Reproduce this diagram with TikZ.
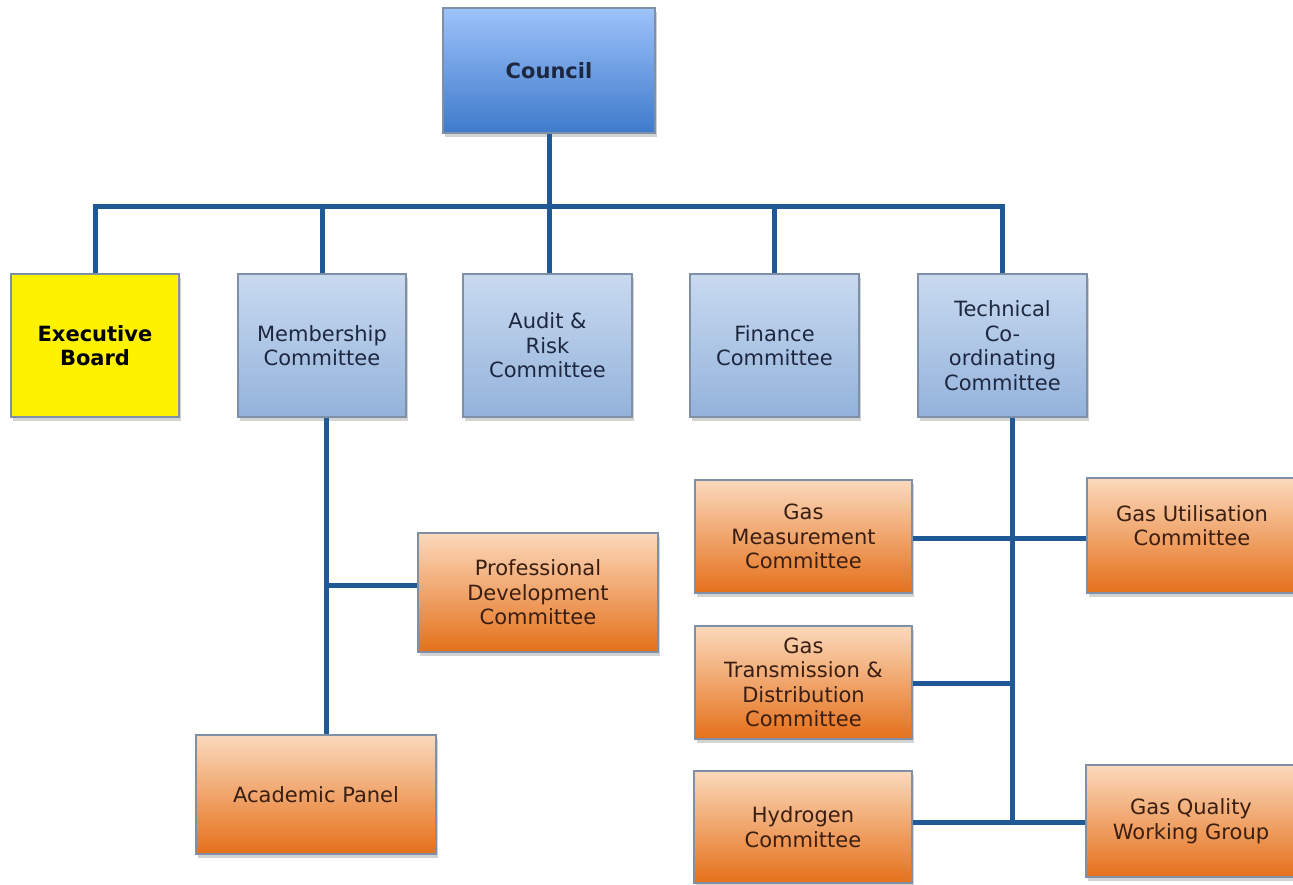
\documentclass[tikz,border=0pt]{standalone}
\usepackage{fontspec}
\setmainfont{DejaVu Sans}
\usetikzlibrary{shadows}
\definecolor{linec}{HTML}{1F5A96}
\definecolor{bordc}{HTML}{7F8FA6}
\definecolor{bluetop}{HTML}{C9DAF0}
\definecolor{bluebot}{HTML}{93B2DB}
\definecolor{ctop}{HTML}{9DC3FA}
\definecolor{cbot}{HTML}{3E7ACB}
\definecolor{otop}{HTML}{FBD9BC}
\definecolor{obot}{HTML}{E5701A}
\definecolor{txtb}{HTML}{1E2740}
\definecolor{txto}{HTML}{3A1E12}
\tikzset{
  box/.style={draw=bordc, line width=1.2pt, align=center, inner sep=2pt,
    font=\fontsize{21}{24.5}\selectfont,
    drop shadow={shadow xshift=2pt, shadow yshift=-4pt, opacity=0.35}},
  bluebox/.style={box, top color=bluetop, bottom color=bluebot, text=txtb},
  orangebox/.style={box, top color=otop, bottom color=obot, text=txto},
  conn/.style={draw=linec, line width=5pt}
}
\begin{document}
\begin{tikzpicture}[x=1pt,y=-1pt]
\useasboundingbox (0,0) rectangle (1293,885);
\coordinate (top) at (549,207);
\coordinate (hl) at (95,207);
\coordinate (hr) at (1002.5,207);
\coordinate (mj) at (326,585);
\coordinate (tj1) at (1012,538);
\coordinate (tj2) at (1012,683);
\coordinate (tj3) at (1012,822);

\node[box, top color=ctop, bottom color=cbot, text=txtb, minimum width=212, minimum height=125, font=\bfseries\fontsize{21}{24.5}\selectfont] (council) at (549,70.5) {Council};
\node[box, fill=yellow, text=black, minimum width=168, minimum height=143, font=\bfseries\fontsize{21}{24.5}\selectfont] (exec) at (95,345.5) {Executive\\Board};
\node[bluebox, minimum width=168, minimum height=143] (memb) at (322,345.5) {Membership\\Committee};
\node[bluebox, minimum width=169, minimum height=143] (audit) at (547.5,345.5) {Audit \&\\Risk\\Committee};
\node[bluebox, minimum width=169, minimum height=143] (fin) at (774.5,345.5) {Finance\\Committee};
\node[bluebox, minimum width=169, minimum height=143] (tech) at (1002.5,345.5) {Technical\\Co-\\ordinating\\Committee};

\node[orangebox, minimum width=217, minimum height=113] (gasm) at (803.5,536.5) {Gas\\Measurement\\Committee};
\node[orangebox, minimum width=210, minimum height=115] (gasu) at (1192,535.5) {Gas Utilisation\\Committee\\[-0.2em]};
\node[orangebox, minimum width=240, minimum height=119] (prof) at (538,592.5) {Professional\\Development\\Committee};
\node[orangebox, minimum width=217, minimum height=113] (gast) at (803.5,682.5) {Gas\\Transmission \&\\Distribution\\Committee};
\node[orangebox, minimum width=240, minimum height=119] (acad) at (316,794.5) {Academic Panel};
\node[orangebox, minimum width=218, minimum height=112] (hyd) at (803,827) {Hydrogen\\Committee};
\node[orangebox, minimum width=210, minimum height=112] (gasq) at (1191,821) {Gas Quality\\Working Group};

\draw[conn] (council.south) -- (top);
\draw[conn, line cap=rect] (hl) -- (hr);
\draw[conn] (hl) -- (exec.north);
\draw[conn] (memb.north |- top) -- (memb.north);
\draw[conn] (top) -- (top |- audit.north);
\draw[conn] (fin.north |- top) -- (fin.north);
\draw[conn] (hr) -- (tech.north);
\draw[conn] (mj |- memb.south) -- (mj |- acad.north);
\draw[conn] (mj) -- (prof.west |- mj);
\draw[conn] (tj1 |- tech.south) -- (tj3);
\draw[conn] (gasm.east |- tj1) -- (gasu.west |- tj1);
\draw[conn] (gast.east |- tj2) -- (tj2);
\draw[conn] (hyd.east |- tj3) -- (gasq.west |- tj3);
\end{tikzpicture}
\end{document}
